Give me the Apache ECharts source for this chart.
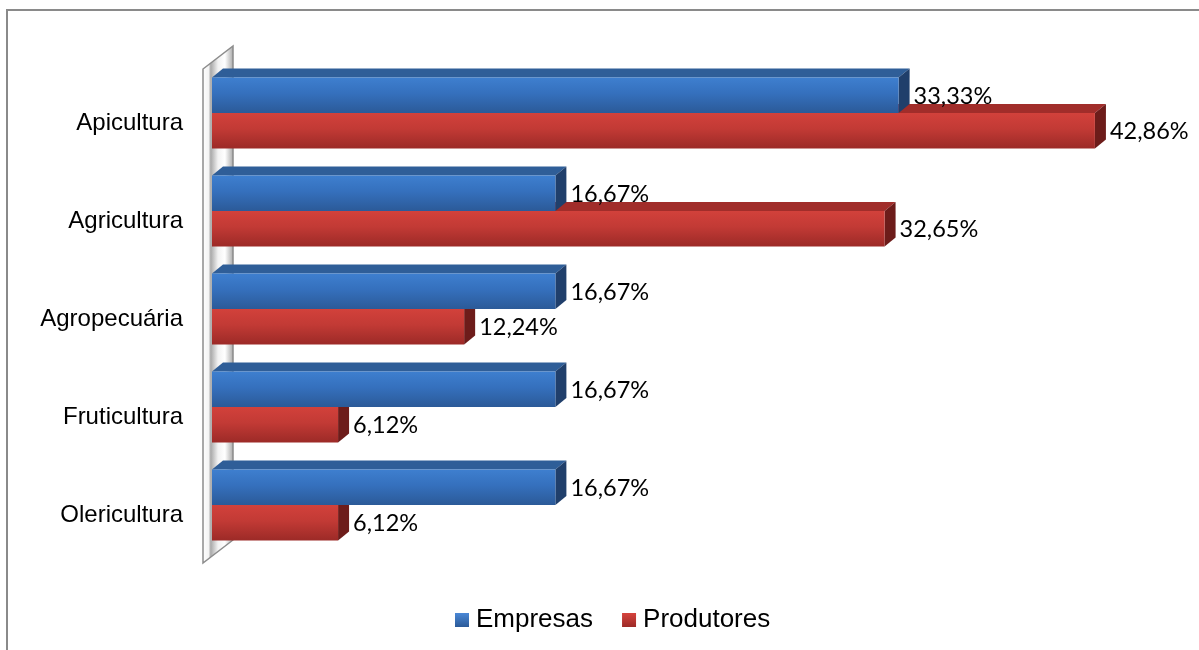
<!DOCTYPE html>
<html>
<head>
<meta charset="utf-8">
<script src="https://cdn.jsdelivr.net/npm/echarts@6/dist/echarts.min.js"></script>
<style>
  html, body { margin: 0; padding: 0; background: #fff; }
  #chart { width: 1199px; height: 650px; }
</style>
</head>
<body>
<div id="chart"></div>
<script>
// Categories (top to bottom) and the share of each group, in percent
const categories = ['Apicultura', 'Agricultura', 'Agropecuária', 'Fruticultura', 'Olericultura'];
const empresas = [33.33, 16.67, 16.67, 16.67, 16.67];
const produtores = [42.86, 32.65, 12.24, 6.12, 6.12];

const DX = 11, DY = 9;          // depth of the 3D bars
const BAR_RATIO = 0.362;        // bar thickness as a share of the category band

const palette = {
  Empresas: {
    front: ['#3e7fcf', '#3570bd', '#2b5a98'],
    top: '#2f5e98',
    side: '#203f6b',
    legend: ['#4a88d6', '#2b5a98']
  },
  Produtores: {
    front: ['#d2413b', '#c23a35', '#9c2a27'],
    top: '#a12d2a',
    side: '#6d1c1a',
    legend: ['#d6433d', '#9c2a27']
  }
};

function fmt(v) {
  return v.toFixed(2).replace('.', ',') + '%';
}

function makeRender(name, above) {
  const c = palette[name];
  return function (params, api) {
    const idx = api.value(1);
    const val = api.value(0);
    const start = api.coord([0, idx]);
    const end = api.coord([val, idx]);
    const band = api.size([0, 1])[1];
    const h = band * BAR_RATIO;
    const x0 = start[0], x1 = end[0];
    const y0 = above ? start[1] - h : start[1];
    const grad = new echarts.graphic.LinearGradient(0, 0, 0, 1, [
      { offset: 0, color: c.front[0] },
      { offset: 0.45, color: c.front[1] },
      { offset: 1, color: c.front[2] }
    ]);
    return {
      type: 'group',
      children: [
        {
          type: 'polygon',
          shape: { points: [[x0, y0], [x0 + DX, y0 - DY], [x1 + DX, y0 - DY], [x1, y0]] },
          style: { fill: c.top }
        },
        {
          type: 'polygon',
          shape: { points: [[x1, y0], [x1 + DX, y0 - DY], [x1 + DX, y0 + h - DY], [x1, y0 + h]] },
          style: { fill: c.side }
        },
        {
          type: 'rect',
          shape: { x: x0, y: y0, width: x1 - x0, height: h },
          style: { fill: grad }
        },
        {
          type: 'text',
          x: x1 + DX + 4,
          y: y0 + h / 2 + 1,
          style: {
            text: fmt(val),
            fill: '#000',
            font: '23.5px Lato, "Open Sans", sans-serif',
            align: 'left',
            verticalAlign: 'middle'
          }
        }
      ]
    };
  };
}

const chart = echarts.init(document.getElementById('chart'), null, { renderer: 'canvas' });

chart.setOption({
  animation: false,
  backgroundColor: '#fff',
  grid: { left: 212, width: 927, top: 64, height: 490 },
  xAxis: {
    type: 'value', min: 0, max: 45, show: false
  },
  yAxis: {
    type: 'category',
    data: categories,
    inverse: true,
    axisLine: { show: false },
    axisTick: { show: false },
    splitLine: { show: false },
    axisLabel: {
      color: '#000',
      fontFamily: '"Liberation Sans", Arial, sans-serif',
      fontSize: 24,
      margin: 29,
      verticalAlign: 'top',
      lineHeight: 20
    }
  },
  legend: {
    data: ['Empresas', 'Produtores'],
    left: 455,
    top: 605,
    padding: 0,
    icon: 'rect',
    itemWidth: 14,
    itemHeight: 14,
    itemGap: 29,
    textStyle: {
      color: '#000',
      fontFamily: '"Liberation Sans", Arial, sans-serif',
      fontSize: 26,
      lineHeight: 30,
      padding: [0, 0, 0, 2]
    }
  },
  graphic: [
    {
      // chart frame
      type: 'rect',
      z: -10,
      shape: { x: 7, y: 10, width: 1300, height: 700 },
      style: { fill: 'none', stroke: '#8a8a8a', lineWidth: 2 }
    },
    {
      // side wall behind the category axis
      type: 'polygon',
      z: -5,
      shape: { points: [[203, 69], [233, 46], [233, 540], [203, 563]] },
      style: {
        stroke: '#8c8c8c',
        lineWidth: 1.5,
        fill: new echarts.graphic.LinearGradient(0, 0, 1, 0, [
          { offset: 0, color: '#ffffff' },
          { offset: 0.2, color: '#f4f4f4' },
          { offset: 0.27, color: '#a9a9a9' },
          { offset: 0.5, color: '#f2f2f2' },
          { offset: 0.72, color: '#ffffff' },
          { offset: 0.9, color: '#c4c4c4' },
          { offset: 1, color: '#a0a0a0' }
        ])
      }
    }
  ],
  series: [
    {
      name: 'Produtores',
      type: 'custom',
      renderItem: makeRender('Produtores', false),
      encode: { x: 0, y: 1 },
      itemStyle: {
        color: new echarts.graphic.LinearGradient(0, 0, 0, 1, [
          { offset: 0, color: palette.Produtores.legend[0] },
          { offset: 1, color: palette.Produtores.legend[1] }
        ])
      },
      data: produtores.map((v, i) => [v, i]),
      z: 2
    },
    {
      name: 'Empresas',
      type: 'custom',
      renderItem: makeRender('Empresas', true),
      encode: { x: 0, y: 1 },
      itemStyle: {
        color: new echarts.graphic.LinearGradient(0, 0, 0, 1, [
          { offset: 0, color: palette.Empresas.legend[0] },
          { offset: 1, color: palette.Empresas.legend[1] }
        ])
      },
      data: empresas.map((v, i) => [v, i]),
      z: 3
    }
  ]
});
</script>
</body>
</html>
